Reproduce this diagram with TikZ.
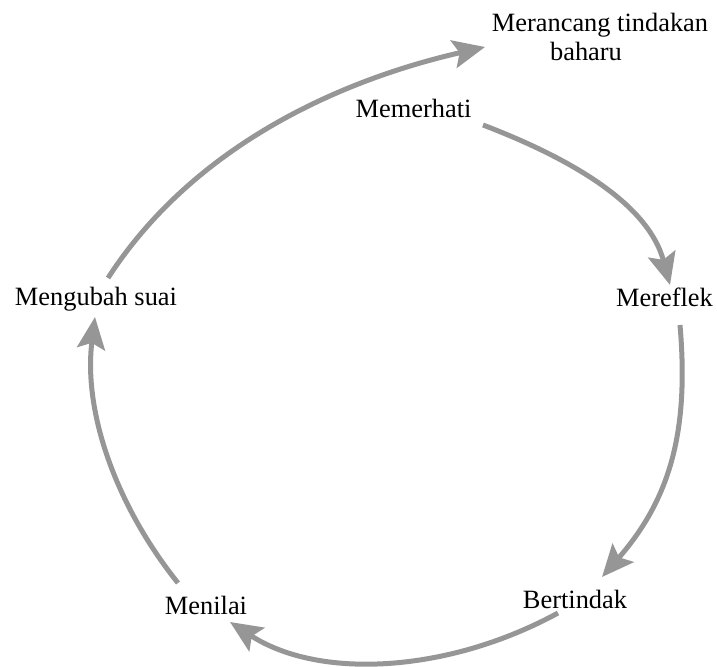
\documentclass[tikz,border=0pt]{standalone}
\usepackage{fontspec}
\setmainfont{Liberation Serif}
\usetikzlibrary{arrows.meta}
\definecolor{arrowgray}{RGB}{150,150,150}
\tikzset{
  lbl/.style={anchor=base, inner sep=0pt, font=\fontsize{13.2}{15}\selectfont},
  cyc/.style={draw=arrowgray, line width=2.5pt,
    -{Stealth[length=16pt, width=14pt, inset=3pt]}},
}
\begin{document}
\begin{tikzpicture}[x=0.5pt, y=-0.5pt]
\useasboundingbox (0,0) rectangle (717,667);
% labels
\node[lbl] (merancang) at (600,32) {Merancang tindakan};
\node[lbl] (baharu) at (586,61) {baharu};
\node[lbl] (memerhati) at (413.5,118) {Memerhati};
\node[lbl] (mereflek) at (664.5,307) {Mereflek};
\node[lbl] (bertindak) at (575,608) {Bertindak};
\node[lbl] (menilai) at (206,614) {Menilai};
\node[lbl] (mengubah) at (96,306) {Mengubah suai};
% connector ends
\coordinate (a0) at (108,278);  \coordinate (a1) at (485,47);
\coordinate (b0) at (483,125);  \coordinate (b1) at (670,285);
\coordinate (c0) at (680,325);  \coordinate (c1) at (602,577);
\coordinate (d0) at (558,613);  \coordinate (d1) at (230,622);
\coordinate (e0) at (178,583);  \coordinate (e1) at (95,317);
% arrows
\draw[cyc] (a0) .. controls (192,148) and (336,81) .. (a1);
\draw[cyc] (b0) .. controls (564,156) and (647.5,201) .. (b1);
\draw[cyc] (c0) .. controls (689,430) and (671,498) .. (c1);
\draw[cyc] (d0) .. controls (448,673) and (319,680) .. (d1);
\draw[cyc] (e0) .. controls (117,507) and (83,413) .. (e1);
\end{tikzpicture}
\end{document}
